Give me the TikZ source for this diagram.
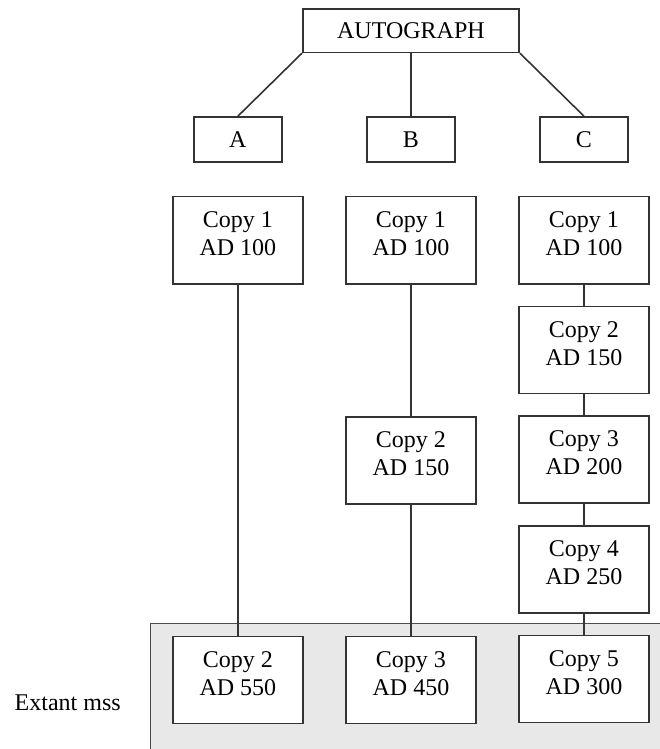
\documentclass[tikz,border=0pt]{standalone}
\usepackage{fontspec}
\setmainfont{Liberation Serif}
\usetikzlibrary{positioning}

\begin{document}
\begin{tikzpicture}[
  font=\fontsize{12}{14}\selectfont,
  top box/.style    = {draw=black!80, line width=0.8pt, fill=white, minimum width=3.80cm, minimum height=0.76cm, inner sep=0pt},
  branch box/.style = {draw=black!80, line width=0.8pt, fill=white, minimum width=1.55cm, minimum height=0.79cm, inner sep=0pt},
  copy box/.style   = {draw=black!80, line width=0.8pt, fill=white, align=center, minimum width=2.28cm, minimum height=1.53cm,
                       inner sep=0pt, text height=29.3pt, text depth=14pt},
  link/.style       = {line width=0.8pt, color=black!80},
  extant/.style     = {fill=black!9, draw=black!70, line width=0.6pt},
]
\useasboundingbox (0,0) rectangle (11.58,13.16);

% shaded band of surviving manuscripts
\draw[extant] (2.65,-0.3) rectangle (11.9,2.21);
\node (extantlbl) at (1.19,0.81) {Extant mss};

% =============================================================
% Autograph and the three branches
% =============================================================
\node[top box]    (auto) at (7.22,12.62) {AUTOGRAPH};
\node[branch box] (brA)  at (4.18,10.71) {A};
\node[branch box] (brB)  at (7.22,10.71) {B};
\node[branch box] (brC)  at (10.26,10.71) {C};

\draw[link] (auto.south west) -- (brA.north);
\draw[link] (auto.south)      -- (brB.north);
\draw[link] (auto.south east) -- (brC.north);

% =============================================================
% Branch A
% =============================================================
\node[copy box] (a1) at (4.18,8.94) {Copy 1\\AD 100};
\node[copy box] (a2) at (4.18,1.21) {Copy 2\\AD 550};

% =============================================================
% Branch B
% =============================================================
\node[copy box] (b1) at (7.22,8.94) {Copy 1\\AD 100};
\node[copy box] (b2) at (7.22,5.07) {Copy 2\\AD 150};
\node[copy box] (b3) at (7.22,1.21) {Copy 3\\AD 450};

% =============================================================
% Branch C -- a copy every 50 years
% =============================================================
\node[copy box] (c1) at (10.26,8.94) {Copy 1\\AD 100};
\node[copy box] (c2) [below=3.7mm of c1] {Copy 2\\AD 150};
\node[copy box] (c3) [below=3.7mm of c2] {Copy 3\\AD 200};
\node[copy box] (c4) [below=3.7mm of c3] {Copy 4\\AD 250};
\node[copy box] (c5) [below=3.7mm of c4] {Copy 5\\AD 300};

% lines of descent
\draw[link] (a1) -- (a2);
\draw[link] (b1) -- (b2);
\draw[link] (b2) -- (b3);
\foreach \i/\j in {1/2, 2/3, 3/4, 4/5} {
  \draw[link] (c\i) -- (c\j);
}

\end{tikzpicture}
\end{document}
